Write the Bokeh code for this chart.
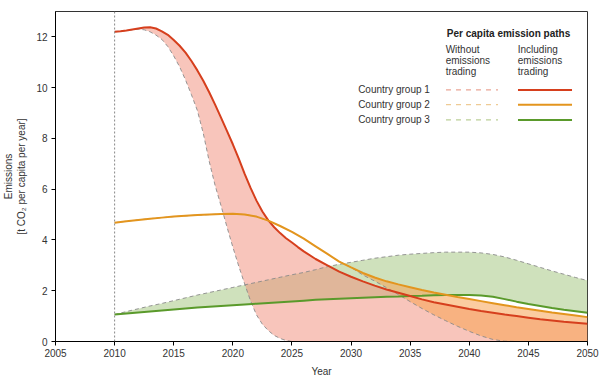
from bokeh.plotting import figure
from bokeh.models import Range1d, FixedTicker, Span, Label
from bokeh.embed import file_html
from bokeh.resources import INLINE

# ---------------- data ----------------
# group 1 is sampled every half year while it falls steeply, then yearly
years_g1 = [2010 + 0.5 * k for k in range(33)] + list(range(2027, 2051))
years = list(range(2010, 2051))

g1_trading = [12.20, 12.22, 12.25, 12.29, 12.33, 12.37, 12.38, 12.33, 12.22, 12.08,
              11.88, 11.65, 11.38, 11.05, 10.68, 10.27, 9.82, 9.33, 8.82, 8.30,
              7.77, 7.20, 6.60, 6.05, 5.55, 5.12, 4.77, 4.50, 4.27, 4.07,
              3.90, 3.72, 3.55,
              3.25, 3.00, 2.75, 2.55, 2.37, 2.20, 2.05, 1.92, 1.79, 1.66,
              1.55, 1.46, 1.37, 1.28, 1.20, 1.13, 1.06, 1.00, 0.94, 0.88,
              0.83, 0.78, 0.74, 0.70]
g1_no_trading = [12.20, 12.22, 12.25, 12.28, 12.30, 12.28, 12.20, 12.07, 11.90, 11.62,
                 11.25, 10.82, 10.30, 9.72, 9.10, 8.20, 7.10, 6.15, 5.35, 4.52,
                 3.72, 2.97, 2.27, 1.60, 1.05, 0.68, 0.43, 0.24, 0.12, 0.04,
                 0.00, 0.00, 0.00,
                 0.00, 0.00, 0.00, 0.00, 0.00, 0.00, 0.00, 0.00, 0.00, 0.00,
                 0.00, 0.00, 0.00, 0.00, 0.00, 0.00, 0.00, 0.00, 0.00, 0.00,
                 0.00, 0.00, 0.00, 0.00]

g2_trading = [4.68, 4.74, 4.79, 4.84, 4.88, 4.92, 4.95, 4.98, 5.00, 5.02,
              5.03, 5.00, 4.92, 4.76, 4.55, 4.32, 4.05, 3.75, 3.45, 3.15,
              2.92, 2.70, 2.52, 2.37, 2.25, 2.14, 2.03, 1.93, 1.84, 1.75,
              1.67, 1.59, 1.51, 1.43, 1.35, 1.28, 1.21, 1.14, 1.08, 1.02, 0.96]
g2_no_trading = [4.68, 4.74, 4.79, 4.84, 4.88, 4.92, 4.95, 4.98, 5.00, 5.02,
                 5.03, 5.00, 4.92, 4.76, 4.55, 4.32, 4.05, 3.75, 3.45, 3.15,
                 2.92, 2.62, 2.38, 2.12, 1.85, 1.57, 1.30, 1.05, 0.82, 0.60,
                 0.40, 0.22, 0.08, 0.01, 0.00, 0.00, 0.00, 0.00, 0.00, 0.00, 0.00]

g3_trading = [1.06, 1.10, 1.14, 1.18, 1.22, 1.26, 1.30, 1.34, 1.37, 1.40,
              1.43, 1.46, 1.49, 1.52, 1.55, 1.58, 1.61, 1.64, 1.66, 1.68,
              1.70, 1.72, 1.74, 1.76, 1.77, 1.79, 1.80, 1.82, 1.83, 1.83,
              1.83, 1.81, 1.76, 1.67, 1.57, 1.48, 1.40, 1.32, 1.25, 1.19, 1.13]
g3_no_trading = [1.06, 1.18, 1.29, 1.40, 1.50, 1.61, 1.72, 1.83, 1.93, 2.03,
                 2.13, 2.23, 2.33, 2.43, 2.53, 2.63, 2.72, 2.83, 2.95, 3.04,
                 3.12, 3.20, 3.28, 3.34, 3.40, 3.44, 3.47, 3.50, 3.52, 3.52,
                 3.52, 3.49, 3.43, 3.33, 3.20, 3.06, 2.92, 2.78, 2.65, 2.52, 2.40]

group_labels = ["Country group 1", "Country group 2", "Country group 3"]
x_ticks = [2005, 2010, 2015, 2020, 2025, 2030, 2035, 2040, 2045, 2050]
y_ticks = [0, 2, 4, 6, 8, 10, 12]
start_year = 2010

# ---------------- styles ----------------
FONT = "Liberation Sans"
TXT = "#333333"
line_cols = ["#d63f1d", "#e3951e", "#5a9a2b"]
fill_cols = ["#f28b78", "#f7a352", "#a0c37a"]
fill_alphas = [0.5, 0.55, 0.5]
legend_dash_cols = ["#eaa595", "#eecb95", "#bccf98"]

p = figure(width=600, height=380, output_backend="svg", toolbar_location=None,
           x_range=Range1d(2005, 2050), y_range=Range1d(0, 13),
           min_border_left=54, min_border_right=13, min_border_top=11,
           min_border_bottom=39)
p.grid.visible = False
p.outline_line_color = "#333333"
p.outline_line_width = 1
p.background_fill_color = "white"
p.border_fill_color = "white"

for ax in (p.xaxis, p.yaxis):
    ax.axis_line_color = "black"
    ax.major_tick_line_color = "black"
    ax.major_tick_out = 4
    ax.major_tick_in = 0
    ax.minor_tick_line_color = None
    ax.major_label_text_font = FONT
    ax.major_label_text_font_size = "10px"
    ax.major_label_text_color = TXT
    ax.axis_label_text_font = FONT
    ax.axis_label_text_font_size = "10px"
    ax.axis_label_text_font_style = "normal"
    ax.axis_label_text_color = TXT

p.xaxis.ticker = FixedTicker(ticks=x_ticks)
p.yaxis.ticker = FixedTicker(ticks=y_ticks)
p.xaxis.axis_label = "Year"
p.xaxis.major_label_standoff = 3
p.xaxis.axis_label_standoff = 6
p.yaxis.axis_label = "Emissions\n[t CO\u2082 per capita per year]"
p.yaxis.major_label_standoff = 4
p.yaxis.axis_label_standoff = 6

p.add_layout(Span(location=start_year, dimension="height", line_color="#888888",
                  line_dash="2 2", line_width=1))

# fills
series = [(years_g1, g1_no_trading, g1_trading),
          (years, g2_no_trading, g2_trading),
          (years, g3_no_trading, g3_trading)]
order = [2, 0, 1]
for i in order:
    xs, lo, hi = series[i]
    p.varea(x=xs, y1=lo, y2=hi, fill_color=fill_cols[i], fill_alpha=fill_alphas[i])

# dashed paths (without trading)
for i in order:
    xs, lo, hi = series[i]
    p.line(xs, lo, line_color="#8a8a8a", line_width=0.9, line_dash="4 3")

# solid paths (with trading)
for i in order:
    xs, lo, hi = series[i]
    p.line(xs, hi, line_color=line_cols[i], line_width=2)

# ---------------- custom legend ----------------
def add_text(x, y, txt, bold=False):
    p.add_layout(Label(x=x, y=y, text=txt, text_font=FONT, text_font_size="10px",
                       text_color="#222222" if bold else TXT,
                       text_font_style="bold" if bold else "normal",
                       text_baseline="middle", text_align="left"))

add_text(2038.1, 12.13, "Per capita emission paths", bold=True)
for k, t in enumerate(["Without", "emissions", "trading"]):
    add_text(2038.0, 11.50 - 0.435 * k, t)
for k, t in enumerate(["Including", "emissions", "trading"]):
    add_text(2044.1, 11.50 - 0.435 * k, t)

row_y = [9.91, 9.33, 8.73]
for i in range(3):
    add_text(2030.6, row_y[i], group_labels[i])
    p.line([2038.03, 2042.43], [row_y[i], row_y[i]], line_color=legend_dash_cols[i],
           line_width=1.2, line_dash="5 5")
    p.line([2044.12, 2048.69], [row_y[i], row_y[i]], line_color=line_cols[i], line_width=2)

open("out.html", "w").write(file_html(p, INLINE))
